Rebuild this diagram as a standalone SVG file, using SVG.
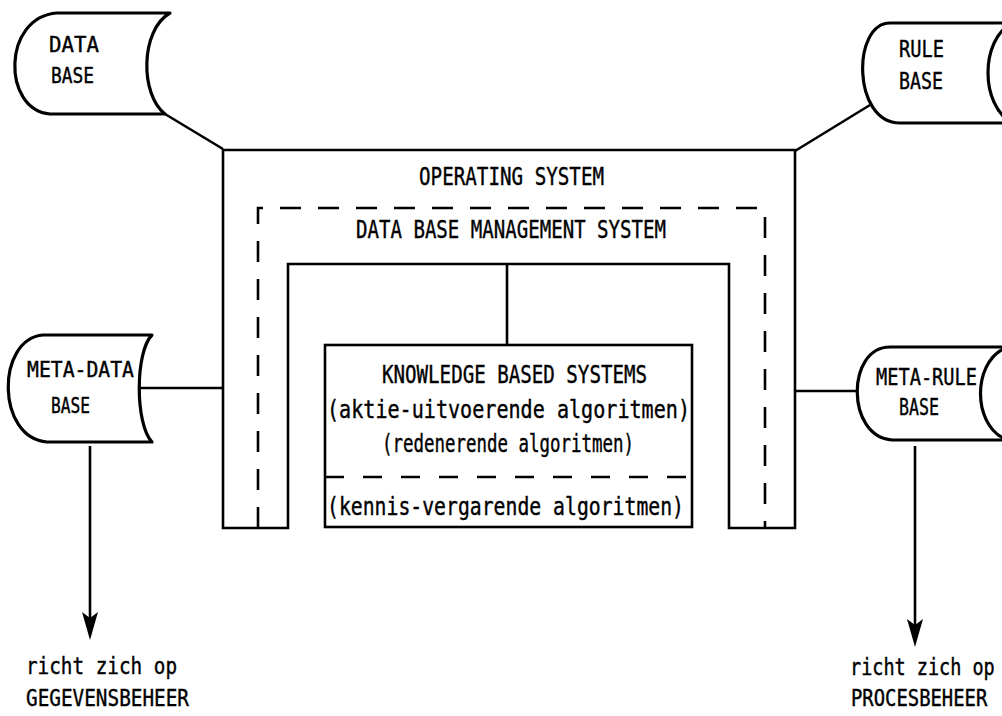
<svg xmlns="http://www.w3.org/2000/svg" width="1002" height="716" viewBox="0 0 1002 716">
<style>
.bg{fill:#fff}
.db{fill:#fff;stroke:#000;stroke-width:3.2;stroke-linejoin:round}
.ln{fill:none;stroke:#000;stroke-width:2.6}
.dash{fill:none;stroke:#000;stroke-width:2.6;stroke-dasharray:21 17}
.box{fill:#fff;stroke:#000;stroke-width:2.6}
.t{font-family:"DejaVu Sans Mono","Liberation Mono",monospace;fill:#000;font-size:24px;stroke:#000;stroke-width:0.4}
.s{font-size:21px}
.m{font-size:23px}
.n{font-size:18.5px;stroke-width:0.35}
</style>
<defs>
<marker id="ah" viewBox="0 0 28 16" refX="16" refY="8" markerWidth="28" markerHeight="16" markerUnits="userSpaceOnUse" orient="auto">
<path d="M0,0 L28,8 L0,16 L6,8 Z" fill="#000"/>
</marker>
</defs>
<rect class="bg" x="0" y="0" width="1002" height="716"/>

<g id="connectors">
<line class="ln" x1="165" y1="114" x2="223" y2="149"/>
<line class="ln" x1="795" y1="151" x2="870" y2="105"/>
<line class="ln" x1="140" y1="388" x2="223" y2="388"/>
<line class="ln" x1="795" y1="391" x2="857" y2="391"/>
<line class="ln" x1="507" y1="264" x2="507" y2="345"/>
<line class="ln" x1="90" y1="446" x2="90" y2="628" marker-end="url(#ah)"/>
<line class="ln" x1="915" y1="446" x2="915" y2="635" marker-end="url(#ah)"/>
</g>

<g id="operating-system">
<path class="ln" d="M223,528 V150 H795 V528 H729 V264 H288 V528 Z"/>
<text class="t" x="419" y="185" textLength="185" lengthAdjust="spacingAndGlyphs">OPERATING SYSTEM</text>
</g>

<g id="dbms">
<path class="dash" d="M258,528 V208 H765 V528"/>
<text class="t" x="356" y="238" textLength="310" lengthAdjust="spacingAndGlyphs">DATA BASE MANAGEMENT SYSTEM</text>
</g>

<g id="kbs">
<rect class="box" x="325" y="345" width="367" height="182"/>
<line class="dash" x1="325" y1="477" x2="692" y2="477" style="stroke-dasharray:19 19"/>
<text class="t" x="382" y="383" textLength="265" lengthAdjust="spacingAndGlyphs">KNOWLEDGE BASED SYSTEMS</text>
<text class="t" x="327" y="418" textLength="363" lengthAdjust="spacingAndGlyphs">(aktie-uitvoerende algoritmen)</text>
<text class="t" x="382" y="452" textLength="252" lengthAdjust="spacingAndGlyphs">(redenerende algoritmen)</text>
<text class="t" x="327" y="515" textLength="357" lengthAdjust="spacingAndGlyphs">(kennis-vergarende algoritmen)</text>
</g>

<g id="data-base">
<path class="db" d="M57,13 H170 C140,30 140,95 165,114 H50 C2,110 2,17 57,13 Z"/>
<text class="t s" x="49" y="52" textLength="50" lengthAdjust="spacingAndGlyphs">DATA</text>
<text class="t s" x="51" y="83" textLength="43" lengthAdjust="spacingAndGlyphs">BASE</text>
</g>

<g id="rule-base">
<path class="db" d="M1012,23 H890 C852,23 852,123 900,123 H1012"/>
<path class="db" style="fill:none" d="M1012,23 C980,40 980,105 1012,123"/>
<text class="t m" x="899" y="57" textLength="45" lengthAdjust="spacingAndGlyphs">RULE</text>
<text class="t m" x="899" y="89" textLength="44" lengthAdjust="spacingAndGlyphs">BASE</text>
</g>

<g id="meta-data-base">
<path class="db" d="M43,335 H152 C135,352 135,424 152,442 H47 C-4,438 -4,339 43,335 Z"/>
<text class="t s" x="27" y="377" textLength="107" lengthAdjust="spacingAndGlyphs">META-DATA</text>
<text class="t s" x="51" y="413" textLength="39" lengthAdjust="spacingAndGlyphs">BASE</text>
</g>

<g id="meta-rule-base">
<path class="db" d="M1012,347 H890 C846,347 846,437 892,440 H1012"/>
<path class="db" style="fill:none" d="M1003,349 C973,365 973,422 1003,438"/>
<text class="t m" x="876" y="385" textLength="101" lengthAdjust="spacingAndGlyphs">META-RULE</text>
<text class="t m" x="899" y="415" textLength="40" lengthAdjust="spacingAndGlyphs">BASE</text>
</g>

<g id="label-gegevensbeheer">
<text class="t m" x="26" y="674" textLength="151" lengthAdjust="spacingAndGlyphs">richt zich op</text>
<text class="t m" x="26" y="706" textLength="163" lengthAdjust="spacingAndGlyphs">GEGEVENSBEHEER</text>
</g>

<g id="label-procesbeheer">
<text class="t n" transform="translate(850,675) scale(1,1.24)">richt zich op</text>
<text class="t n" transform="translate(851,706) scale(1.02,1.24)">PROCESBEHEER</text>
</g>
</svg>
